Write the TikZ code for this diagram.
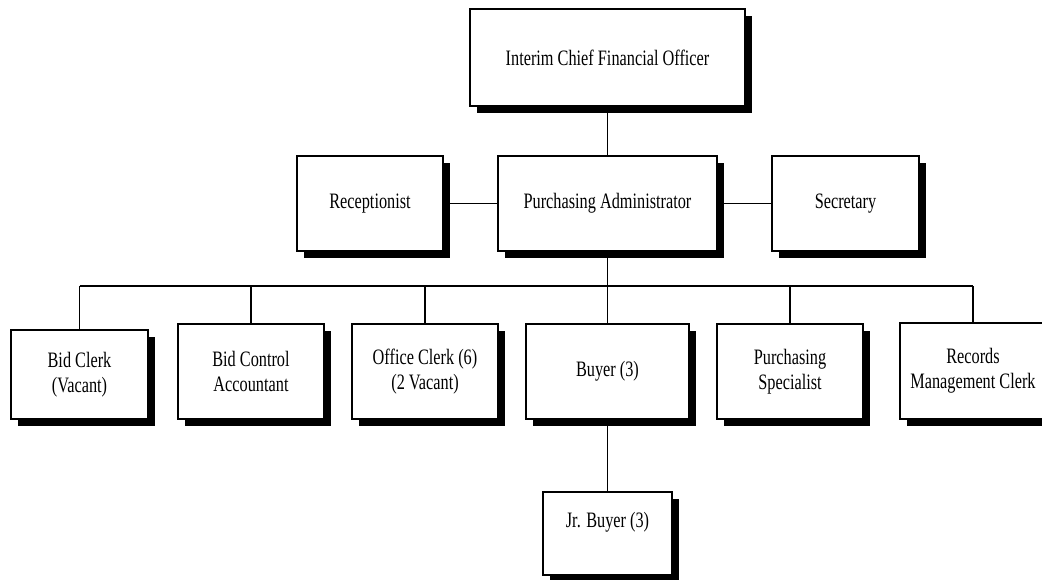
\documentclass[tikz,border=0pt]{standalone}
\usepackage{fontspec}
\setmainfont{Liberation Serif}
\newfontfamily\chartfont[FakeStretch=0.74]{Liberation Serif}
\usetikzlibrary{shadows}

\tikzset{
  post/.style={draw=black, fill=white, line width=1.7pt,
    font=\chartfont\fontsize{22}{25}\selectfont, align=center, inner sep=4pt,
    drop shadow={shadow xshift=6.5pt, shadow yshift=-6.5pt, fill=black, opacity=1}},
  link/.style={draw=black, line width=1.6pt}
}

\begin{document}
\begin{tikzpicture}[x=1pt, y=-1pt]
  \useasboundingbox[fill=white] (0,0) rectangle (1042,579);

  % top of the chart
  \node[post, minimum width=275pt, minimum height=97pt] (cfo) at (607.5,57.5)
    {Interim Chief Financial Officer};

  % administrator and support staff
  \node[post, minimum width=146pt, minimum height=95pt] (rec) at (370,203.5) {Receptionist};
  \node[post, minimum width=219pt, minimum height=95pt] (pa) at (607.5,203.5) {Purchasing Administrator};
  \node[post, minimum width=147pt, minimum height=95pt] (sec) at (845.5,203.5) {Secretary};

  % staff reporting to the administrator
  \node[post, minimum width=137pt, minimum height=89pt] (bidclerk) at (79.5,374.5) {Bid Clerk\\ (Vacant)};
  \node[post, minimum width=146pt, minimum height=95pt] (bidctrl) at (251,371.5) {Bid Control\\Accountant};
  \node[post, minimum width=146pt, minimum height=95pt] (office) at (425,371.5) {Office Clerk (6)\\(2 Vacant)};
  \node[post, minimum width=163pt, minimum height=95pt] (buyer) at (607.5,371.5) {Buyer (3)};
  \node[post, minimum width=146pt, minimum height=95pt] (spec) at (790,371.5) {Purchasing\\Specialist};
  \node[post, minimum width=146pt, minimum height=96pt] (records) at (973,371) {Records\\Management Clerk};

  % junior buyers, label set near the top of the box
  \node[post, minimum width=129pt, inner ysep=4pt, text height=31pt, text depth=44pt]
    (jr) at (607.5,533.5) {Jr. Buyer (3)};

  % connectors
  \coordinate (bus) at (608,286);
  \draw[link] (cfo.south) -- (pa.north);
  \draw[link] (rec.east) -- (pa.west);
  \draw[link] (pa.east) -- (sec.west);
  \draw[link] (pa.south) -- (buyer.north);
  \draw[link] (bidclerk.north |- bus) -- (records.north |- bus);
  \foreach \n in {bidclerk, bidctrl, office, spec, records}
    \draw[link] (\n.north) -- (\n.north |- bus);
  \draw[link] (buyer.south) -- (jr.north);
\end{tikzpicture}
\end{document}
